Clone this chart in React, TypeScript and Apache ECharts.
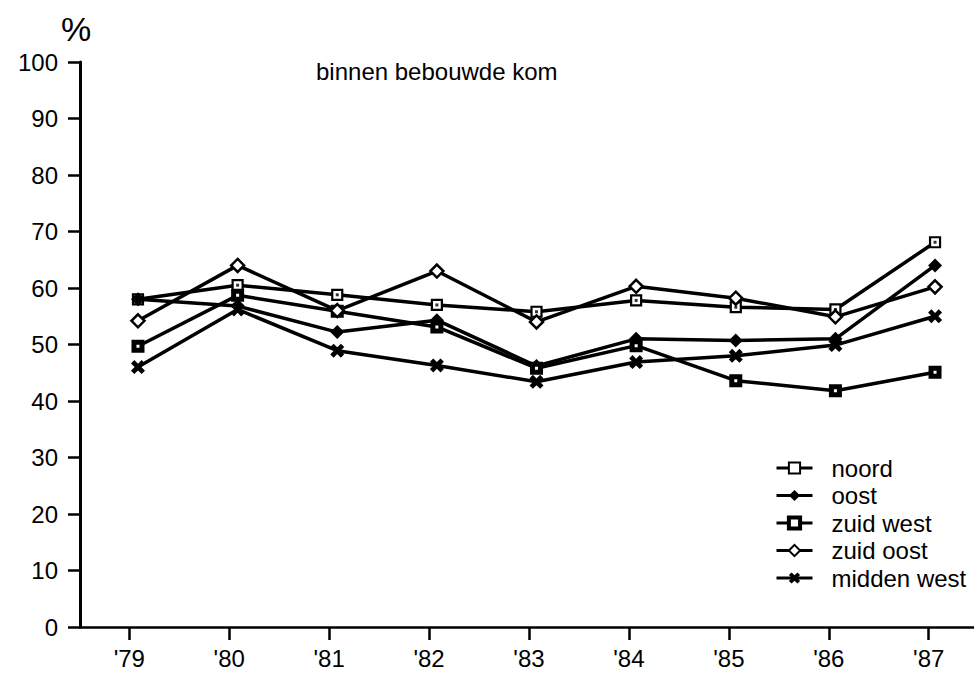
import React, { useEffect, useRef } from "react";
import * as echarts from "echarts";

const years = ["'79", "'80", "'81", "'82", "'83", "'84", "'85", "'86", "'87"];
const yTicks = [0, 10, 20, 30, 40, 50, 60, 70, 80, 90, 100];

const noord = [58, 60.5, 58.8, 57, 55.8, 57.8, 56.6, 56.2, 68.1];
const oost = [58, 56.8, 52.2, 54.3, 46.2, 51, 50.7, 51, 64];
const zuidWest = [49.7, 58.7, 55.9, 53.1, 45.8, 49.8, 43.6, 41.8, 45.1];
const zuidOost = [54.2, 64, 56, 63, 54, 60.3, 58.2, 54.9, 60.2];
const middenWest = [46, 56.2, 48.9, 46.3, 43.4, 46.9, 48, 49.9, 55];

const seriesNames = ["noord", "oost", "zuid west", "zuid oost", "midden west"];
const chartTitle = "binnen bebouwde kom";
const unitLabel = "%";

const FONT = "'Liberation Sans', Arial, Helvetica, sans-serif";
const X_PATH =
  "path://M0,2.4 L2.4,0 L5,2.6 L7.6,0 L10,2.4 L7.4,5 L10,7.6 L7.6,10 L5,7.4 L2.4,10 L0,7.6 L2.6,5 Z";

const toPairs = (arr: number[]) => arr.map((v, i) => [i, v]);

export default function App() {
  const ref = useRef<HTMLDivElement>(null);

  useEffect(() => {
    if (!ref.current) return;
    const chart = echarts.init(ref.current, null, { renderer: "svg" });

    const lineBase = {
      type: "line",
      xAxisIndex: 1,
      yAxisIndex: 0,
      lineStyle: { color: "#000", width: 3.5 },
      emphasis: { disabled: true },
      showAllSymbol: true,
      z: 3,
    };

    const option: any = {
      animation: false,
      backgroundColor: "#fff",
      textStyle: { fontFamily: FONT, color: "#000" },
      title: {
        text: chartTitle,
        left: 311,
        top: 54,
        textStyle: { fontFamily: FONT, fontSize: 24, fontWeight: "normal", color: "#000" },
      },
      graphic: [
        {
          type: "text",
          left: 61,
          top: 12,
          style: { text: unitLabel, fontFamily: FONT, fontSize: 34, fill: "#000" },
        },
      ],
      legend: {
        data: seriesNames.map((n) =>
          n === "zuid west"
            ? { name: n, itemStyle: { borderWidth: 4 } }
            : { name: n }
        ),
        orient: "vertical",
        left: 770,
        top: 451,
        itemWidth: 36,
        itemHeight: 14,
        itemGap: 3.5,
        lineStyle: { width: 3, color: "#000" },
        textStyle: { fontFamily: FONT, fontSize: 24, color: "#000", padding: [0, 0, 0, 14] },
        selectedMode: false,
      },
      grid: { left: 80, right: 0, top: 62, bottom: 47, containLabel: false },
      xAxis: [
        {
          type: "value",
          min: -0.493,
          max: 8.453,
          position: "bottom",
          axisLine: { show: true, onZero: false, lineStyle: { color: "#000", width: 2.5 } },
          axisTick: {
            show: true,
            length: 13,
            lineStyle: { color: "#000", width: 2.5 },
            customValues: years.map((_, i) => i),
          },
          axisLabel: {
            show: true,
            customValues: years.map((_, i) => i),
            formatter: (v: number) => years[Math.round(v)] ?? "",
            fontFamily: FONT,
            fontSize: 24,
            color: "#000",
            margin: 19,
          },
          splitLine: { show: false },
        },
        {
          type: "value",
          min: -0.582,
          max: 8.391,
          show: false,
          position: "bottom",
          splitLine: { show: false },
        },
      ],
      yAxis: {
        type: "value",
        min: 0,
        max: 100,
        interval: 10,
        position: "left",
        axisLine: { show: true, onZero: false, lineStyle: { color: "#000", width: 3 } },
        axisTick: { show: true, length: 12, lineStyle: { color: "#000", width: 2.5 } },
        axisLabel: {
          fontFamily: FONT,
          fontSize: 24,
          color: "#000",
          margin: 22,
          padding: [8, 0, 0, 0],
          formatter: (v: number) => (yTicks.includes(v) ? String(v) : ""),
        },
        splitLine: { show: false },
      },
      series: [
        {
          ...lineBase,
          name: seriesNames[0],
          data: toPairs(noord),
          symbol: "rect",
          symbolSize: 10,
          itemStyle: { color: "#fff", borderColor: "#000", borderWidth: 2.2 },
        },
        {
          ...lineBase,
          name: seriesNames[1],
          data: toPairs(oost),
          symbol: "diamond",
          symbolSize: 14,
          itemStyle: { color: "#000", borderColor: "#000", borderWidth: 0 },
        },
        {
          ...lineBase,
          name: seriesNames[2],
          data: toPairs(zuidWest),
          symbol: "rect",
          symbolSize: 8,
          itemStyle: { color: "#fff", borderColor: "#000", borderWidth: 5 },
        },
        {
          ...lineBase,
          name: seriesNames[3],
          data: toPairs(zuidOost),
          symbol: "diamond",
          symbolSize: 13,
          itemStyle: { color: "#fff", borderColor: "#000", borderWidth: 2.5 },
        },
        {
          ...lineBase,
          name: seriesNames[4],
          data: toPairs(middenWest),
          symbol: X_PATH,
          symbolSize: 14,
          itemStyle: { color: "#000", borderWidth: 0 },
        },
        {
          type: "scatter",
          name: "noord-dot",
          xAxisIndex: 1,
          yAxisIndex: 0,
          data: toPairs(noord),
          symbol: "rect",
          symbolSize: 3,
          itemStyle: { color: "#000" },
          emphasis: { disabled: true },
          silent: true,
          z: 5,
        },
      ],
    };

    chart.setOption(option);
    return () => chart.dispose();
  }, []);

  return (
    <div
      ref={ref}
      style={{ position: "fixed", left: 0, top: 0, width: 974, height: 674, background: "#fff" }}
    />
  );
}
